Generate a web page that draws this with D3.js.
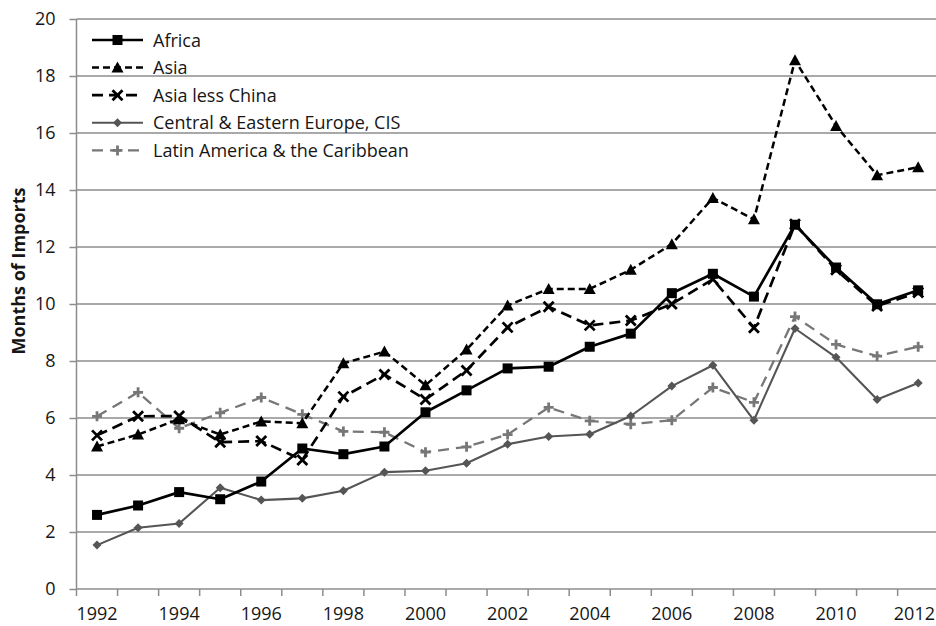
<!DOCTYPE html>
<html>
<head>
<meta charset="utf-8">
<script src="https://cdn.jsdelivr.net/npm/d3@7"></script>
<style>
  html, body { margin: 0; padding: 0; background: #fff; }
  svg { display: block; font-family: "Open Sans", Lato, sans-serif; }
</style>
</head>
<body>
<svg id="chart" width="936" height="626"></svg>
<script>
// Reserves in months of imports, by region
const years = [1992, 1993, 1994, 1995, 1996, 1997, 1998, 1999, 2000, 2001, 2002,
               2003, 2004, 2005, 2006, 2007, 2008, 2009, 2010, 2011, 2012];
const yearLabels = [1992, 1994, 1996, 1998, 2000, 2002, 2004, 2006, 2008, 2010, 2012];
const yTicks = [0, 2, 4, 6, 8, 10, 12, 14, 16, 18, 20];

const africa        = [2.60, 2.93, 3.40, 3.15, 3.77, 4.93, 4.73, 5.00, 6.20, 6.97, 7.74,
                       7.80, 8.50, 8.96, 10.38, 11.06, 10.26, 12.78, 11.28, 9.99, 10.48];
const asia          = [5.00, 5.42, 5.96, 5.42, 5.88, 5.82, 7.92, 8.33, 7.15, 8.40, 9.95,
                       10.53, 10.53, 11.20, 12.10, 13.72, 12.97, 18.55, 16.25, 14.52, 14.80];
const asiaLessChina = [5.39, 6.06, 6.07, 5.15, 5.19, 4.53, 6.75, 7.53, 6.65, 7.67, 9.18,
                       9.90, 9.25, 9.42, 10.00, 10.87, 9.17, 12.80, 11.20, 9.93, 10.40];
const ceeCis        = [1.54, 2.15, 2.30, 3.55, 3.12, 3.18, 3.45, 4.10, 4.15, 4.41, 5.08,
                       5.35, 5.43, 6.07, 7.12, 7.85, 5.92, 9.14, 8.13, 6.65, 7.23];
const latAm         = [6.06, 6.90, 5.64, 6.18, 6.72, 6.13, 5.53, 5.50, 4.80, 4.99, 5.42,
                       6.37, 5.90, 5.78, 5.92, 7.07, 6.55, 9.56, 8.58, 8.17, 8.50];

const series = [
  { name: "Africa", values: africa, color: "#000", width: 2.7, dash: null, marker: "square" },
  { name: "Asia", values: asia, color: "#000", width: 2.5, dash: "7,4", marker: "triangle" },
  { name: "Asia less China", values: asiaLessChina, color: "#000", width: 2.7, dash: "11,6", marker: "cross" },
  { name: "Central & Eastern Europe, CIS", values: ceeCis, color: "#555", width: 2.1, dash: null, marker: "diamond" },
  { name: "Latin America & the Caribbean", values: latAm, color: "#777", width: 2.3, dash: "11,7", marker: "plus" }
];

const svg = d3.select("#chart");
const plotLeft = 76.5, plotRight = 938.7, plotTop = 19, plotBottom = 589;
const gridColor = "#8c8c8c";
const textColor = "#161616";
const fontSize = 18;

const x = d3.scaleBand().domain(years).range([plotLeft, plotRight]).padding(0);
const y = d3.scaleLinear().domain([0, 20]).range([plotBottom, plotTop]);
const cx = d => x(d) + x.bandwidth() / 2;

// horizontal gridlines
svg.append("g")
  .selectAll("line")
  .data(yTicks.filter(v => v > 0))
  .join("line")
  .attr("x1", plotLeft).attr("x2", 936)
  .attr("y1", d => y(d)).attr("y2", d => y(d))
  .attr("stroke", gridColor).attr("stroke-width", 1.5);

// y axis
const yAxis = svg.append("g")
  .attr("transform", `translate(${plotLeft},0)`)
  .call(d3.axisLeft(y).tickValues(yTicks).tickSize(7).tickPadding(14).tickFormat(d3.format("d")));
yAxis.select(".domain").attr("stroke", gridColor).attr("stroke-width", 1.5).attr("d", `M0,${plotTop}V${plotBottom}`);
yAxis.selectAll(".tick line").attr("stroke", gridColor).attr("stroke-width", 1.5);
yAxis.selectAll(".tick text").attr("font-size", fontSize).attr("fill", textColor).attr("font-family", "Open Sans");

// x axis: tick marks between categories, labels every other year
const xg = svg.append("g");
xg.append("line")
  .attr("x1", plotLeft).attr("x2", 936).attr("y1", plotBottom).attr("y2", plotBottom)
  .attr("stroke", gridColor).attr("stroke-width", 1.5);
xg.selectAll("line.tk")
  .data(years)
  .join("line").attr("class", "tk")
  .attr("x1", d => x(d)).attr("x2", d => x(d))
  .attr("y1", plotBottom).attr("y2", plotBottom + 7)
  .attr("stroke", gridColor).attr("stroke-width", 1.5);
xg.selectAll("text")
  .data(yearLabels)
  .join("text")
  .attr("x", d => cx(d)).attr("y", 620)
  .attr("text-anchor", "middle")
  .attr("font-size", fontSize).attr("fill", textColor)
  .text(d => d)
  .each(function () {
    // keep the last label inside the canvas
    const w = this.getComputedTextLength();
    const xc = +this.getAttribute("x");
    if (xc + w / 2 > 935) this.setAttribute("x", 935 - w / 2);
  });

// y axis title
svg.append("text")
  .attr("transform", "translate(25,271) rotate(-90)")
  .attr("text-anchor", "middle")
  .attr("font-size", fontSize).attr("font-weight", "bold").attr("fill", textColor)
  .text("Months of Imports");

// marker shapes
function drawMarker(g, type, px, py, color) {
  if (type === "square") {
    g.append("rect").attr("x", px - 5).attr("y", py - 5).attr("width", 10).attr("height", 10).attr("fill", color);
  } else if (type === "triangle") {
    g.append("path").attr("d", `M${px},${py - 6}L${px + 6},${py + 5}L${px - 6},${py + 5}Z`).attr("fill", color);
  } else if (type === "cross") {
    g.append("path").attr("d", `M${px - 5},${py - 5}L${px + 5},${py + 5}M${px + 5},${py - 5}L${px - 5},${py + 5}`)
      .attr("stroke", color).attr("stroke-width", 2.8).attr("fill", "none");
  } else if (type === "diamond") {
    g.append("path").attr("d", `M${px},${py - 4.5}L${px + 4.5},${py}L${px},${py + 4.5}L${px - 4.5},${py}Z`).attr("fill", color);
  } else if (type === "plus") {
    g.append("path").attr("d", `M${px - 5},${py}L${px + 5},${py}M${px},${py - 5}L${px},${py + 5}`)
      .attr("stroke", color).attr("stroke-width", 2.8).attr("fill", "none");
  }
}

const line = d3.line().x((d, i) => cx(years[i])).y(d => y(d));

// draw back to front so Africa sits on top
series.slice().reverse().forEach(s => {
  const g = svg.append("g");
  g.append("path")
    .attr("d", line(s.values))
    .attr("fill", "none")
    .attr("stroke", s.color)
    .attr("stroke-width", s.width)
    .attr("stroke-dasharray", s.dash)
    .attr("stroke-linejoin", "round");
  s.values.forEach((v, i) => drawMarker(g, s.marker, cx(years[i]), y(v), s.color));
});

// legend
const legend = svg.append("g");
series.forEach((s, i) => {
  const ly = 40 + i * 27.6;
  const g = legend.append("g");
  g.append("line")
    .attr("x1", 92).attr("x2", 143).attr("y1", ly).attr("y2", ly)
    .attr("stroke", s.color).attr("stroke-width", s.width)
    .attr("stroke-dasharray", s.dash);
  drawMarker(g, s.marker, 117.5, ly, s.color);
  g.append("text")
    .attr("x", 153).attr("y", ly + 6.5)
    .attr("font-size", fontSize).attr("fill", textColor)
    .text(s.name);
});
</script>
</body>
</html>
